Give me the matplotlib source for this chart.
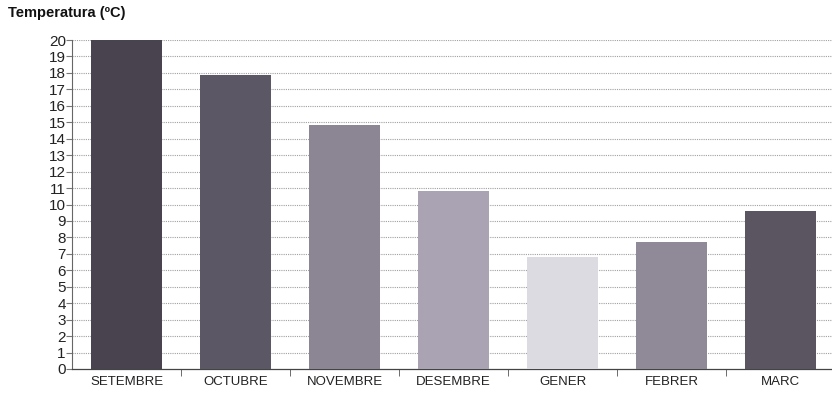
import matplotlib.pyplot as plt
import numpy as np

months = ["SETEMBRE", "OCTUBRE", "NOVEMBRE", "DESEMBRE", "GENER", "FEBRER", "MARC"]
temps = [20.0, 17.9, 14.85, 10.8, 6.8, 7.7, 9.6]
colors = ["#48434e", "#5c5764", "#8c8694", "#aaa3b4", "#dddbe2", "#8f8998", "#5a5561"]

plt.rcParams["font.family"] = ["Liberation Sans", "DejaVu Sans"]

fig = plt.figure(figsize=(8.32, 3.94), dpi=100)
ax = fig.add_axes([72 / 832, 1 - 369 / 394, 1 - 72 / 832, (369 - 40) / 394])

x = np.arange(len(months))
ax.bar(x, temps, width=0.65, color=colors, zorder=3)

ax.set_xlim(-0.5, len(months) - 0.53)
ax.set_ylim(0, 20)
ax.set_yticks(range(0, 21))
ax.set_yticklabels([str(v) for v in range(0, 21)], fontsize=11, color="#222222")
ax.set_xticks(x)
ax.set_xticklabels(months, fontsize=9.5, color="#222222")
ax.set_xticks(x[:-1] + 0.5, minor=True)
ax.tick_params(axis="x", which="major", length=0, pad=5)
ax.tick_params(axis="x", which="minor", length=5, direction="out", color="#555555")
ax.tick_params(axis="y", length=4, direction="out", color="#777777", pad=0.5)

for y in range(1, 21):
    ax.axhline(y, color="#a0a0a0", linewidth=0.8, linestyle=(0, (1, 1)), zorder=1)

for side in ("top", "right"):
    ax.spines[side].set_visible(False)
ax.spines["left"].set_color("#666666")
ax.spines["bottom"].set_color("#444444")
ax.spines["left"].set_linewidth(0.8)
ax.spines["bottom"].set_linewidth(0.9)

fig.text(8 / 832, 1 - 13 / 394, "Temperatura (ºC)", fontsize=10.5, fontweight="bold",
         va="center", ha="left", color="#111111")

fig.savefig("out.png", dpi=100)
